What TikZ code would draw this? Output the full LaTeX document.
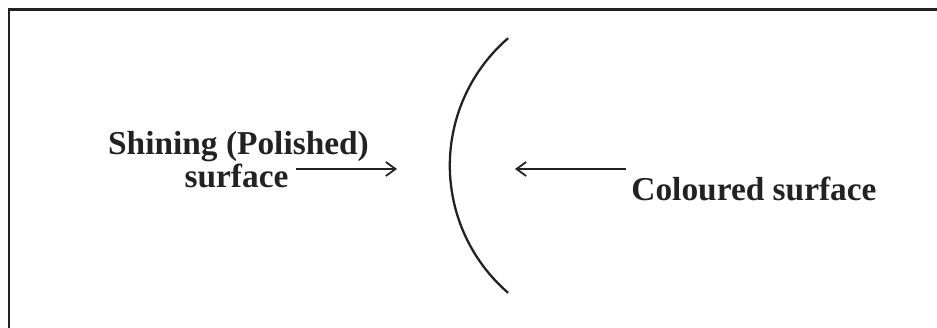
\documentclass[tikz,border=0pt]{standalone}
\usepackage{fontspec}
\setmainfont{Liberation Serif}
\usetikzlibrary{arrows.meta, positioning}
\definecolor{inkgray}{RGB}{34, 34, 34}

\begin{document}
\begin{tikzpicture}[
        label text/.style={font=\bfseries\fontsize{19}{19}\selectfont, text=inkgray, inner sep=0pt},
        ray/.style={draw=inkgray, line width=1pt, -{Straight Barb[length=5.5pt,width=8pt]}}
    ]
        \useasboundingbox (0,0) rectangle (18.74,6.56);
        % Frame (only top and left edges show)
        \draw[inkgray, line width=1.5pt] (0.18,0) -- (0.18,6.37) -- (18.74,6.37);
        % Mirror
        \draw[inkgray, line width=1.3pt] (12.36,3.25) ++(130.8:3.364) arc[start angle=130.8, end angle=229.2, radius=3.364];
        % Labels
        \node[label text, anchor=base] (shining) at (4.77,3.46) {Shining (Polished)};
        \node[label text, anchor=base] (surf) at (4.73,2.80) {surface};
        \node[label text, anchor=base] (coloured) at (15.08,2.54) {Coloured surface};
        \coordinate (tipL) at (7.94,3.18);
        \coordinate (tipR) at (10.30,3.18);
        % Arrows
        \draw[ray] ([xshift=4pt]surf.east |- tipL) -- (tipL);
        \draw[ray] ([xshift=-3pt]coloured.west |- tipR) -- (tipR);
    \end{tikzpicture}
\end{document}
